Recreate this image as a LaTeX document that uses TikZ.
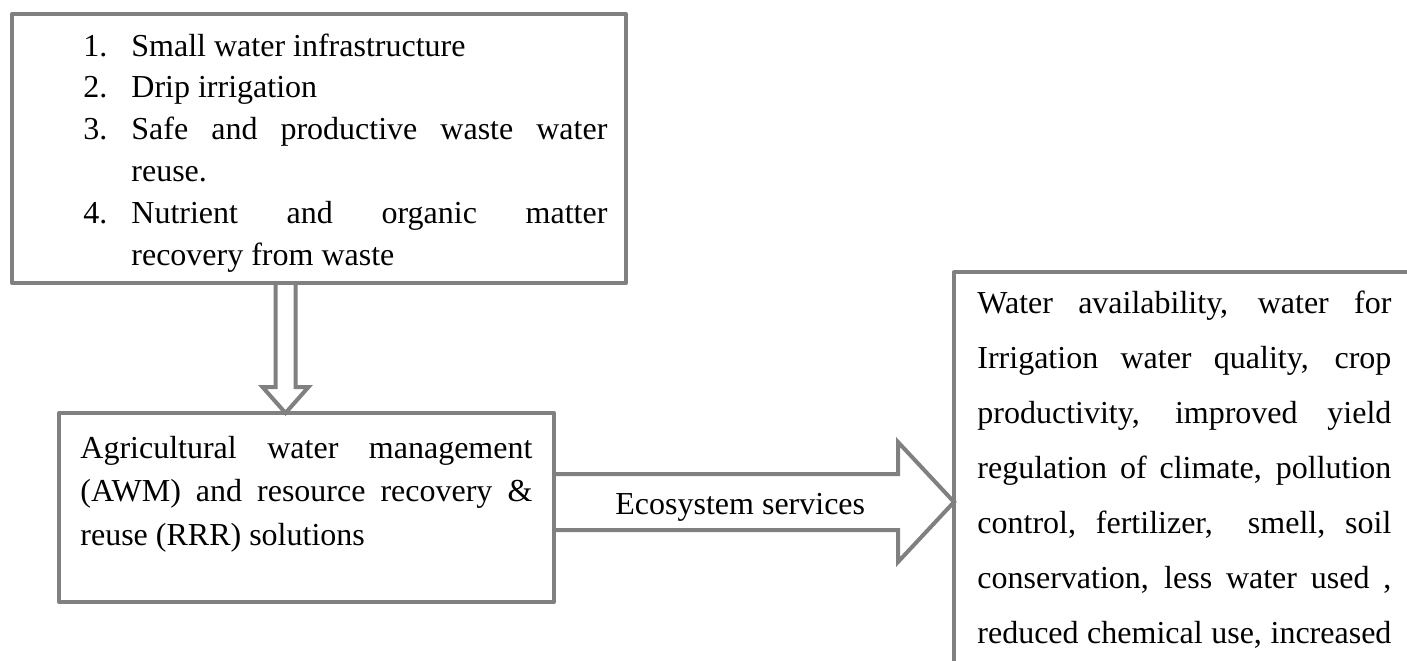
\documentclass[tikz,border=0pt]{standalone}
\usepackage{fontspec}
\setmainfont{Liberation Serif}
\usetikzlibrary{calc}
\definecolor{boxgray}{RGB}{128,128,128}
\tikzset{
	panel/.style={draw=boxgray, line width=2pt, rectangle, inner sep=0pt, outer sep=0pt, anchor=north west, line join=round},
	blockarrow/.style={draw=boxgray, line width=2pt},
	boxtext/.style={inner sep=0pt, anchor=base west, align=justify}
}
\newcommand{\numitem}[1]{\noindent\hangindent=24pt\hangafter=1\makebox[24pt][l]{#1}}

\begin{document}
\begin{tikzpicture}[x=0.5pt,y=-0.5pt]
		\useasboundingbox (0,0) rectangle (1407,660);
		\fill[white] (0,0) rectangle (1407,660);
		\clip (0,0) rectangle (1407,660);
		% boxes
		\node[panel, minimum width=307pt, minimum height=134.5pt] (listbox) at (12,14) {};
		\node[panel, minimum width=247.5pt, minimum height=94.5pt] (awmbox) at (59,413) {};
		\node[panel, minimum width=250pt, minimum height=220pt] (esbox) at (954,272) {};
		% texts
		\node[boxtext, text width=262pt, font=\fontsize{16}{20.9}\selectfont] (listtext) at (83,56) {\numitem{1.}Small water infrastructure\par
			\numitem{2.}Drip irrigation\par
			\numitem{3.}Safe and productive waste water\linebreak reuse.\par
			\numitem{4.}Nutrient and organic matter\linebreak recovery from waste\par};
		\node[boxtext, text width=226pt, font=\fontsize{16}{21.75}\selectfont] (awmtext) at (80,458) {Agricultural water management\linebreak (AWM) and resource recovery \&\linebreak reuse (RRR) solutions};
		\node[boxtext, text width=207pt, font=\fontsize{16}{27.5}\selectfont] (estext) at (977,313) {Water availability, water for\linebreak Irrigation water quality, crop\linebreak productivity, improved yield\linebreak regulation of climate, pollution\linebreak control, fertilizer,\ \ smell, soil\linebreak conservation, less water used ,\linebreak reduced chemical use, increased\parfillskip=0pt\par};
		\node[inner sep=0pt, anchor=base west, font=\fontsize{16}{19}\selectfont] (eslabel) at (615,514) {Ecosystem services};
		% block arrows
		\draw[blockarrow] (275.5,0 |- listbox.south) -- (275.5,387) -- (262.5,387) -- (285.5,0 |- awmbox.north) -- (308.5,387) -- (295.5,387) -- (295.5,0 |- listbox.south);
		\draw[blockarrow] (awmbox.east |- 0,474) -- (898,474) -- (898,442) -- (esbox.west |- 0,502) -- (898,562) -- (898,530) -- (awmbox.east |- 0,530);
\end{tikzpicture}
\end{document}
